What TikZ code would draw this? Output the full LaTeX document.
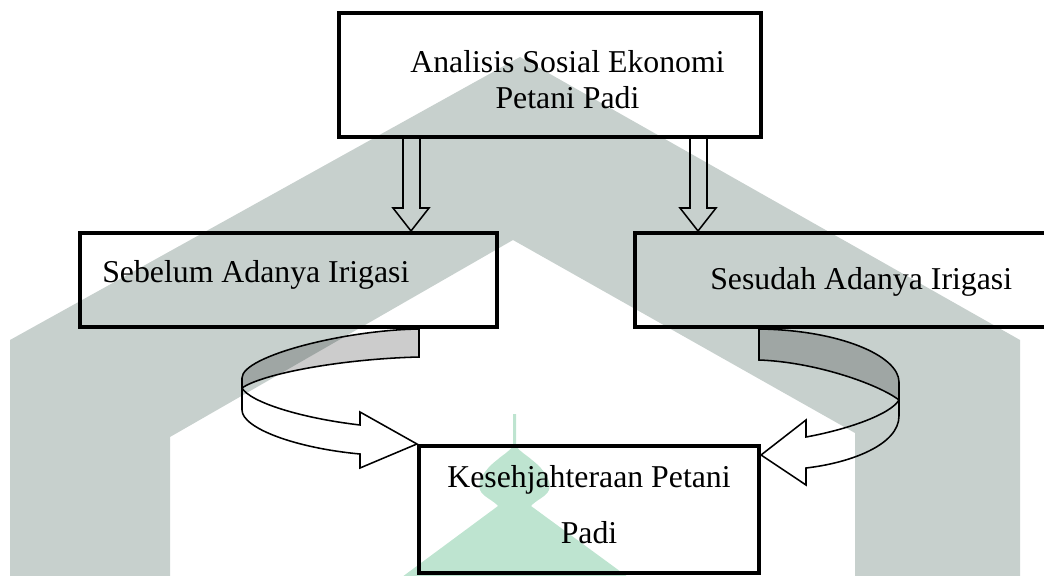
\documentclass[tikz,border=0pt]{standalone}
\usepackage{fontspec}
\setmainfont{Liberation Serif}
\usepackage{xcolor}
\definecolor{wmgray}{HTML}{C7D0CD}
\definecolor{wmgreen}{HTML}{BEE4D0}

\begin{document}
\begin{tikzpicture}[x=0.025cm, y=-0.025cm,
					kotak/.style={draw, line width=2.85pt, inner sep=0pt},
					teks/.style={font=\fontsize{22.6}{26}\selectfont, inner sep=0pt},
					panah/.style={draw, line width=1.1pt, line join=miter},
					belakang/.style={panah, fill=black, fill opacity=0.2}]
    \clip (0,0) rectangle (1044,576);
    % Watermark
    \fill[wmgray] (10,580) -- (10,340) -- (520,57) -- (1020,340) -- (1020,580) -- (855,580)
        -- (855,433) -- (513,240) -- (170,437) -- (170,580) -- cycle;
    \fill[wmgreen] (513,414) -- (516,414) -- (516,446) .. controls (520,452) and (528,456) .. (532,460)
        .. controls (545,470) and (552,482) .. (549,490) .. controls (546,497) and (536,500) .. (531,506)
        -- (632,580) -- (398,580) -- (498,506) .. controls (493,500) and (483,497) .. (480,490)
        .. controls (477,482) and (484,470) .. (497,460) .. controls (501,456) and (509,452) .. (513,446) -- cycle;
    % Place nodes
    \node [kotak, minimum width=10.55cm, minimum height=3.1cm] (analisis) at (550,75) {};
    \node [teks, align=center, anchor=base] (analisis-t) at (567.5,109) {Analisis Sosial Ekonomi\\Petani Padi};
    \node [kotak, minimum width=10.425cm, minimum height=2.35cm] (sebelum) at (288.5,280) {};
    \node [teks, anchor=base west] (sebelum-t) at (102,283) {Sebelum Adanya Irigasi};
    \node [kotak, minimum width=10.625cm, minimum height=2.35cm] (sesudah) at (847.5,280) {};
    \node [teks, anchor=base west] (sesudah-t) at (710,290) {Sesudah Adanya Irigasi};
    \node [kotak, minimum width=8.5cm, minimum height=3.175cm] (sejahtera) at (589,509.5) {};
    \node [teks, align=center, anchor=base, font=\fontsize{22.6}{39.8}\selectfont] (sejahtera-t) at (589,543) {Kesehjahteraan Petani\\Padi};
    % Draw edges
    \draw[panah] (analisis.south -| 403,0) -- (403,208) -- (393,208) -- (sebelum.north -| 411,0)
        -- (429,208) -- (420,208) -- (analisis.south -| 420,0);
    \draw[panah] (analisis.south -| 690,0) -- (690,208) -- (680,208) -- (sesudah.north -| 698,0)
        -- (716,208) -- (707,208) -- (analisis.south -| 707,0);
    \filldraw[belakang] (sebelum.south -| 419,0) .. controls (345,330) and (242,356) .. (242,378)
        -- (242,388) .. controls (262,374) and (340,359) .. (419,357) -- cycle;
    \draw[panah] (242,378) -- (242,410) .. controls (242,428) and (295,448) .. (360,454) -- (360,468)
        -- (sejahtera.north west) -- (360,412) -- (360,425) .. controls (300,418) and (250,402) .. (242,388);
    \filldraw[belakang] (sesudah.south -| 759,0) .. controls (840,330) and (899,356) .. (899,382)
        -- (899,400) .. controls (878,384) and (815,362) .. (759,360) -- cycle;
    \draw[panah] (899,382) -- (899,416) .. controls (899,445) and (850,463) .. (806,468) -- (806,485)
        -- ([yshift=-0.275cm]sejahtera.north east) -- (806,420) -- (806,437) .. controls (845,430) and (890,415) .. (899,400);
\end{tikzpicture}
\end{document}
